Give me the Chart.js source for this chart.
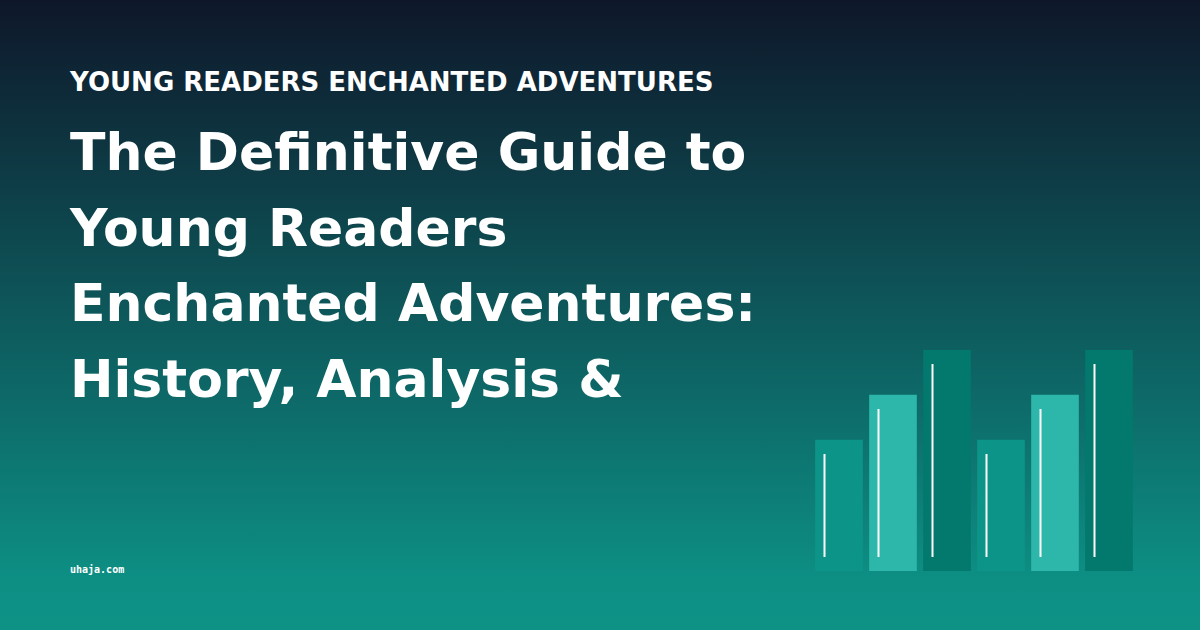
<!DOCTYPE html>
<html>
<head>
<meta charset="utf-8">
<script src="https://cdn.jsdelivr.net/npm/chart.js@4.4.1/dist/chart.umd.min.js"></script>
<style>
  html, body { margin: 0; padding: 0; }
  body {
    width: 1200px; height: 630px; overflow: hidden; position: relative;
    background: linear-gradient(180deg, #0e172a 0%, #0d8f84 92%, #0e9286 100%);
    font-family: "DejaVu Sans", sans-serif; color: #fff;
  }
  .kicker { position: absolute; left: 70px; top: 67px; font-size: 26px; font-weight: bold; line-height: 1.164; }
  .title { position: absolute; left: 70px; top: 115px; width: 760px; font-size: 52px; font-weight: bold; line-height: 75.7px; }
  .site { position: absolute; left: 70px; top: 564px; font-family: "DejaVu Sans Mono", monospace; font-size: 10px; font-weight: bold; }
  .bars { position: absolute; left: 812px; top: 350px; width: 324px; height: 221px; }
</style>
</head>
<body>
<div class="kicker">YOUNG READERS ENCHANTED ADVENTURES</div>
<div class="title">The Definitive Guide to<br>Young Readers<br>Enchanted Adventures:<br>History, Analysis &amp;</div>
<div class="site">uhaja.com</div>
<div class="bars"><canvas id="chart"></canvas></div>
<script>
const labels = ["1", "2", "3", "4", "5", "6"];
const values = [131, 176, 221, 131, 176, 221];
const barColors = ["#0d9488", "#2db6aa", "#02796c", "#0d9488", "#2db6aa", "#02796c"];

// thin white stroke inset in each bar
const insetLines = {
    id: "insetLines",
    afterDatasetsDraw(chart) {
        const ctx = chart.ctx;
        chart.getDatasetMeta(0).data.forEach(bar => {
            const x = bar.x - bar.width / 2 + 9;
            ctx.save();
            ctx.strokeStyle = "#ffffff";
            ctx.lineWidth = 2;
            ctx.beginPath();
            ctx.moveTo(x, bar.y + 14);
            ctx.lineTo(x, bar.base - 14);
            ctx.stroke();
            ctx.restore();
        });
    }
};

new Chart(document.getElementById("chart"), {
    type: "bar",
    data: {
        labels: labels,
        datasets: [{
            data: values,
            backgroundColor: barColors,
            borderWidth: 0,
            barThickness: 47
        }]
    },
    options: {
        responsive: true,
        maintainAspectRatio: false,
        animation: false,
        layout: { padding: 0 },
        plugins: { legend: { display: false }, tooltip: { enabled: false } },
        scales: {
            x: { display: false },
            y: { display: false, min: 0, max: 221 }
        }
    },
    plugins: [insetLines]
});
</script>
</body>
</html>
